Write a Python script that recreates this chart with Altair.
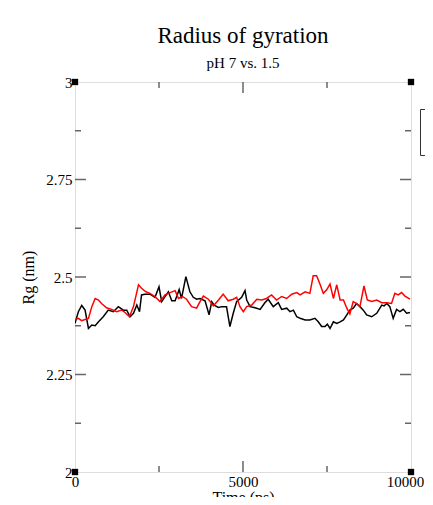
import altair as alt
import pandas as pd

# ---- data ----
black_t = [0, 100, 200, 300, 400, 500, 600, 700, 840, 990, 1140, 1290, 1440, 1540, 1640,
           1740, 1840, 1920, 1980, 2080, 2230, 2380, 2500, 2580, 2680, 2780, 2880, 2980,
           3100, 3170, 3300, 3420, 3520, 3620, 3720, 3870, 3990, 4070, 4140, 4270, 4370,
           4510, 4610, 4710, 4810, 4960, 5060, 5110, 5210, 5360, 5510, 5650, 5750, 5900,
           6050, 6150, 6300, 6400, 6500, 6600, 6700, 6850, 6990, 7140, 7240, 7340, 7440,
           7510, 7590, 7690, 7790, 7890, 7990, 8090, 8180, 8280, 8380, 8480, 8580, 8680,
           8830, 8980, 9130, 9200, 9280, 9370, 9470, 9570, 9670, 9770, 9870, 9970]
black_v = [2.381, 2.411, 2.427, 2.415, 2.368, 2.377, 2.375, 2.385, 2.398, 2.415, 2.411,
           2.424, 2.415, 2.415, 2.398, 2.407, 2.428, 2.411, 2.454, 2.456, 2.456, 2.448,
           2.475, 2.437, 2.450, 2.462, 2.439, 2.439, 2.468, 2.445, 2.501, 2.462, 2.448,
           2.443, 2.445, 2.439, 2.403, 2.437, 2.428, 2.422, 2.424, 2.424, 2.373, 2.407,
           2.437, 2.448, 2.465, 2.441, 2.424, 2.421, 2.417, 2.434, 2.443, 2.424, 2.434,
           2.417, 2.420, 2.411, 2.415, 2.398, 2.394, 2.390, 2.390, 2.394, 2.385, 2.373,
           2.373, 2.379, 2.368, 2.385, 2.381, 2.385, 2.390, 2.403, 2.415, 2.420, 2.432,
           2.424, 2.415, 2.403, 2.398, 2.407, 2.428, 2.426, 2.432, 2.424, 2.394, 2.417,
           2.411, 2.417, 2.407, 2.409]

red_t = [0, 100, 200, 300, 400, 500, 600, 700, 790, 940, 1090, 1240, 1390, 1490, 1620,
         1740, 1890, 1980, 2110, 2230, 2380, 2530, 2680, 2830, 2980, 3080, 3200, 3320,
         3470, 3620, 3720, 3820, 3970, 4120, 4270, 4410, 4560, 4710, 4810, 4910, 5010,
         5110, 5260, 5410, 5560, 5700, 5850, 6000, 6150, 6300, 6450, 6600, 6700, 6850,
         6990, 7090, 7190, 7290, 7390, 7490, 7590, 7690, 7790, 7890, 7990, 8090, 8180,
         8280, 8380, 8480, 8600, 8700, 8830, 8980, 9130, 9280, 9420, 9520, 9620, 9720,
         9820, 9970]
red_v = [2.390, 2.394, 2.388, 2.391, 2.394, 2.424, 2.445, 2.441, 2.432, 2.421, 2.417,
         2.411, 2.415, 2.409, 2.398, 2.424, 2.480, 2.471, 2.462, 2.458, 2.450, 2.437,
         2.454, 2.460, 2.465, 2.445, 2.450, 2.443, 2.424, 2.420, 2.437, 2.451, 2.443,
         2.426, 2.441, 2.456, 2.439, 2.443, 2.448, 2.424, 2.411, 2.424, 2.428, 2.443,
         2.441, 2.445, 2.454, 2.441, 2.450, 2.445, 2.456, 2.460, 2.454, 2.462, 2.458,
         2.503, 2.503, 2.482, 2.458, 2.467, 2.482, 2.445, 2.480, 2.441, 2.441, 2.420,
         2.405, 2.437, 2.432, 2.424, 2.477, 2.441, 2.437, 2.441, 2.434, 2.434, 2.432,
         2.458, 2.454, 2.460, 2.451, 2.443]

series_names = ["pH 7", "pH 1.5"]
series_colors = ["#000000", "#ff0000"]

x_major = [0, 5000, 10000]
x_minor = [2500, 7500]
y_major = [2, 2.25, 2.5, 2.75, 3]
y_minor = [2.125, 2.375, 2.625, 2.875]

corner_t = [0, 0, 10000, 10000]
corner_v = [2, 3, 2, 3]

# ---- layout ----
W, H = 336, 390
FONT = "Liberation Serif"
GRID = "#666666"
MAJ, MIN = 11, 6

df = pd.concat([
    pd.DataFrame({"t": black_t, "v": black_v, "s": series_names[0]}),
    pd.DataFrame({"t": red_t, "v": red_v, "s": series_names[1]}),
])

xs = alt.Scale(domain=[0, 10000], nice=False, zero=False)
ys = alt.Scale(domain=[2, 3], nice=False, zero=False)

lines = alt.Chart(df).mark_line(strokeWidth=1.5, clip=True).encode(
    x=alt.X("t:Q", scale=xs, title="Time (ps)",
            axis=alt.Axis(values=x_major, format="d", ticks=False, domain=False,
                          grid=False, labelPadding=2, titlePadding=0,
                          labelOffset={"condition": {"test": "datum.value >= 10000", "value": -6},
                                       "value": 0},
                          labelFont=FONT, labelFontSize=15, labelColor="black",
                          titleFont=FONT, titleFontSize=16, titleFontWeight="normal",
                          titleColor="black", labelFlush=False)),
    y=alt.Y("v:Q", scale=ys, title="Rg (nm)",
            axis=alt.Axis(values=y_major, labelExpr="toString(datum.value)",
                          ticks=False, domain=False,
                          grid=False, labelPadding=3, titlePadding=9,
                          labelFont=FONT, labelFontSize=15, labelColor="black",
                          titleFont=FONT, titleFontSize=16, titleFontWeight="normal",
                          titleColor="black", labelFlush=False)),
    color=alt.Color("s:N", scale=alt.Scale(domain=series_names, range=series_colors),
                    legend=alt.Legend(title=None, orient="none", legendX=345, legendY=27,
                                      strokeColor="#333333", fillColor="white",
                                      padding=6, symbolOffset=12, symbolType="stroke",
                                      labelExpr="''", labelFontSize=15)),
)

def tick_layer(vals, orient, length):
    d = pd.DataFrame({"val": vals})
    base = alt.Chart(d).mark_rule(color=GRID, strokeWidth=1.5)
    if orient == "bottom":
        return base.encode(x=alt.X("val:Q", scale=xs), y=alt.value(H), y2=alt.value(H - length))
    if orient == "top":
        return base.encode(x=alt.X("val:Q", scale=xs), y=alt.value(0), y2=alt.value(length))
    if orient == "left":
        return base.encode(y=alt.Y("val:Q", scale=ys), x=alt.value(0), x2=alt.value(length))
    return base.encode(y=alt.Y("val:Q", scale=ys), x=alt.value(W), x2=alt.value(W - length))

ticks = [
    tick_layer(x_major[1:-1], "bottom", MAJ), tick_layer(x_minor, "bottom", MIN),
    tick_layer(x_major[1:-1], "top", MAJ), tick_layer(x_minor, "top", MIN),
    tick_layer(y_major[1:-1], "left", MAJ), tick_layer(y_minor, "left", MIN),
    tick_layer(y_major[1:-1], "right", MAJ), tick_layer(y_minor, "right", MIN),
]

corners = alt.Chart(pd.DataFrame({"t": corner_t, "v": corner_v})).mark_point(
    shape="square", filled=True, color="black", size=40, opacity=1
).encode(x=alt.X("t:Q", scale=xs), y=alt.Y("v:Q", scale=ys))

chart = alt.layer(lines, *ticks, corners).properties(
    width=W, height=H,
    title=alt.TitleParams(text="Radius of gyration", subtitle="pH 7 vs. 1.5",
                          font=FONT, fontSize=23, fontWeight="normal", color="black",
                          subtitleFont=FONT, subtitleFontSize=15, subtitleColor="black",
                          anchor="middle", offset=4, subtitlePadding=8),
    autosize=alt.AutoSizeParams(type="none"),
    padding={"left": 67, "top": 74, "right": 14, "bottom": 25},
).configure_view(stroke=GRID, strokeWidth=1.5).configure(background="white")

chart.save("out.html", embed_options={"renderer": "svg", "actions": False})
